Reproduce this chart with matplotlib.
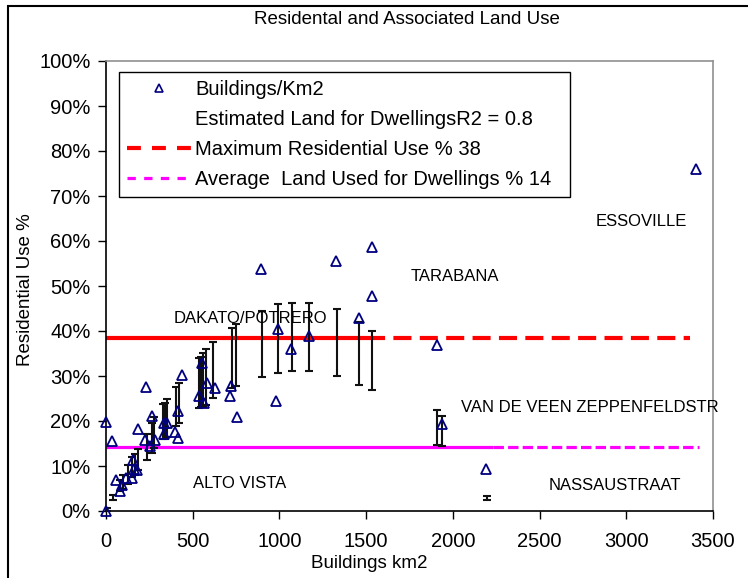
import matplotlib
matplotlib.use('Agg')
import matplotlib.pyplot as plt
from matplotlib.lines import Line2D
from matplotlib.patches import Rectangle
from matplotlib.ticker import FuncFormatter, MultipleLocator

plt.rcParams['font.family'] = ['Liberation Sans', 'DejaVu Sans']

# Buildings per km2 vs residential use (%)
bld_x = [0, 0, 37, 60, 78, 93, 117, 150, 163, 177, 158, 187, 228, 226, 255, 267,
         285, 333, 334, 350, 395, 417, 418, 441, 552, 537, 565, 581, 626, 715,
         723, 753, 894, 978, 992, 1064, 1171, 1326, 1459, 1532, 1532, 1910, 1939,
         2191, 3400]
bld_y = [0, 19.8, 15.6, 6.9, 4.5, 5.7, 7.3, 7.4, 9.3, 9.1, 11.3, 18.2, 27.5, 15.8,
         14.5, 21.1, 15.7, 19.5, 17.1, 19.6, 17.6, 22.3, 16.2, 30.3, 32.8, 25.6,
         23.9, 28.5, 27.3, 25.6, 27.8, 21.0, 53.7, 24.5, 40.4, 36.1, 39.0, 55.6,
         43.0, 58.6, 47.8, 37.0, 19.3, 9.3, 76.0]

# Estimated land for dwellings (error-bar ranges, %)
est_x = [4, 42, 81, 100, 129, 148, 167, 186, 235, 263, 277, 327, 340, 354, 401,
         423, 538, 548, 561, 577, 619, 725, 748, 898, 994, 1074, 1172, 1330, 1459,
         1534, 1910, 1939, 2199]
est_low = [0.0, 2.4, 4.5, 5.0, 6.0, 7.6, 8.0, 9.1, 11.3, 13.0, 13.9, 15.9, 16.1,
           16.4, 18.9, 19.6, 23.0, 23.2, 23.2, 23.6, 25.2, 27.3, 27.8, 29.7, 30.6,
           31.2, 31.2, 30.0, 28.0, 26.9, 14.7, 14.4, 2.4]
est_high = [0.6, 3.6, 6.9, 8.0, 10.2, 12.1, 12.7, 13.8, 17.1, 19.5, 21.0, 23.7,
            23.9, 24.8, 27.5, 28.5, 34.0, 34.3, 35.2, 35.9, 37.6, 40.7, 41.5, 44.5,
            46.0, 46.3, 46.3, 44.8, 42.1, 40.1, 22.4, 21.2, 3.4]

# Reference lines
max_use = 38.4
max_solid_x = [0, 1505]
max_dash_x = [1505, 3370]
avg_use = 14.3
avg_solid_x = [0, 2230]
avg_dash_x = [2230, 3420]

# Area labels
area_names = ['ESSOVILLE', 'TARABANA', 'DAKATO/POTRERO', 'VAN DE VEEN ZEPPENFELDSTR',
              'ALTO VISTA', 'NASSAUSTRAAT']
area_x = [2825, 1759, 392, 2047, 502, 2554]
area_y = [64.4, 52.2, 42.7, 22.9, 6.2, 5.6]

legend_labels = ['Buildings/Km2', 'Estimated Land for DwellingsR2 = 0.8',
                 'Maximum Residential Use % 38', 'Average  Land Used for Dwellings % 14']

W, H = 748, 578
fig = plt.figure(figsize=(W / 100, H / 100), dpi=100)
ax = fig.add_axes([106 / W, 1 - 511 / H, (713 - 106) / W, (511 - 61) / H])

# figure border
fig.patches.append(Rectangle((8 / W, -0.1), 1.2, 1 - 6 / H + 0.1, transform=fig.transFigure,
                             fill=False, edgecolor='black', linewidth=1.5, clip_on=False))

FS = 14.5
LFS = 13.5
red_lw = 3.0
mag_lw = 2.3
ax.plot(max_solid_x, [max_use] * 2, color='#FF0000', lw=red_lw, solid_capstyle='butt', zorder=2)
ax.plot(max_dash_x, [max_use] * 2, color='#FF0000', lw=red_lw,
        linestyle=(0, (13 / red_lw, 6 / red_lw)), dash_capstyle='butt', zorder=2)
ax.plot(avg_solid_x, [avg_use] * 2, color='#FF00FF', lw=mag_lw, solid_capstyle='butt', zorder=2)
ax.plot(avg_dash_x, [avg_use] * 2, color='#FF00FF', lw=mag_lw,
        linestyle=(0, (7.5 / mag_lw, 3 / mag_lw)), dash_capstyle='butt', zorder=2)

centers = [(lo + hi) / 2 for lo, hi in zip(est_low, est_high)]
half = [(hi - lo) / 2 for lo, hi in zip(est_low, est_high)]
ax.errorbar(est_x, centers, yerr=half, fmt='none', ecolor='#111111', elinewidth=1.5,
            capsize=3.0, capthick=1.5, zorder=3)

ax.plot(bld_x, bld_y, linestyle='none', marker='^', markersize=7.5, markerfacecolor='none',
        markeredgecolor='#000080', markeredgewidth=1.3, zorder=4, clip_on=False)

for name, x, y in zip(area_names, area_x, area_y):
    ax.text(x, y, name, fontsize=12, va='center', ha='left', color='black', zorder=5)

ax.set_xlim(0, 3500)
ax.set_ylim(0, 100)
ax.xaxis.set_major_locator(MultipleLocator(500))
ax.yaxis.set_major_locator(MultipleLocator(10))
ax.yaxis.set_major_formatter(FuncFormatter(lambda v, p: f'{int(round(v))}%'))
ax.tick_params(axis='both', direction='out', length=6, width=1, labelsize=FS, colors='black')
ax.tick_params(axis='x', pad=9)
ax.tick_params(axis='y', pad=5)
for s in ['left', 'bottom']:
    ax.spines[s].set_color('black')
    ax.spines[s].set_linewidth(1.2)
for s in ['top', 'right']:
    ax.spines[s].set_color('#909090')
    ax.spines[s].set_linewidth(1.2)

ax.set_xlabel('Buildings km2', fontsize=LFS)
ax.set_ylabel('Residential Use %', fontsize=LFS)
ax.xaxis.set_label_coords((369 - 106) / 607, -(563 - 511) / 450)
ax.yaxis.set_label_coords(-(106 - 25) / 607, (511 - 290) / 450)
ax.xaxis.label.set_va('center')
ax.yaxis.label.set_va('center')
fig.text(407 / W, 1 - 20 / H, 'Residental and Associated Land Use', fontsize=LFS,
         ha='center', va='center')

handles = [
    Line2D([], [], linestyle='none', marker='^', markersize=6, markerfacecolor='none',
           markeredgecolor='#000080', markeredgewidth=1.2),
    Line2D([], [], linestyle='none'),
    Line2D([], [], color='#FF0000', lw=red_lw, linestyle=(0, (10 / red_lw, 8 / red_lw))),
    Line2D([], [], color='#FF00FF', lw=mag_lw, linestyle=(0, (6 / mag_lw, 6 / mag_lw))),
]
leg = ax.legend(handles, legend_labels, loc='upper left',
                bbox_to_anchor=(119 / W, 1 - 194 / H, 451 / W, 122 / H),
                bbox_transform=fig.transFigure, mode='expand',
                borderaxespad=0, fontsize=FS, frameon=True, fancybox=False, framealpha=1,
                edgecolor='black', borderpad=0.38, labelspacing=0.56, handlelength=3.2,
                handletextpad=0.2)
leg.get_frame().set_linewidth(1.0)
leg.set_zorder(6)

fig.savefig('out.png', dpi=100)
